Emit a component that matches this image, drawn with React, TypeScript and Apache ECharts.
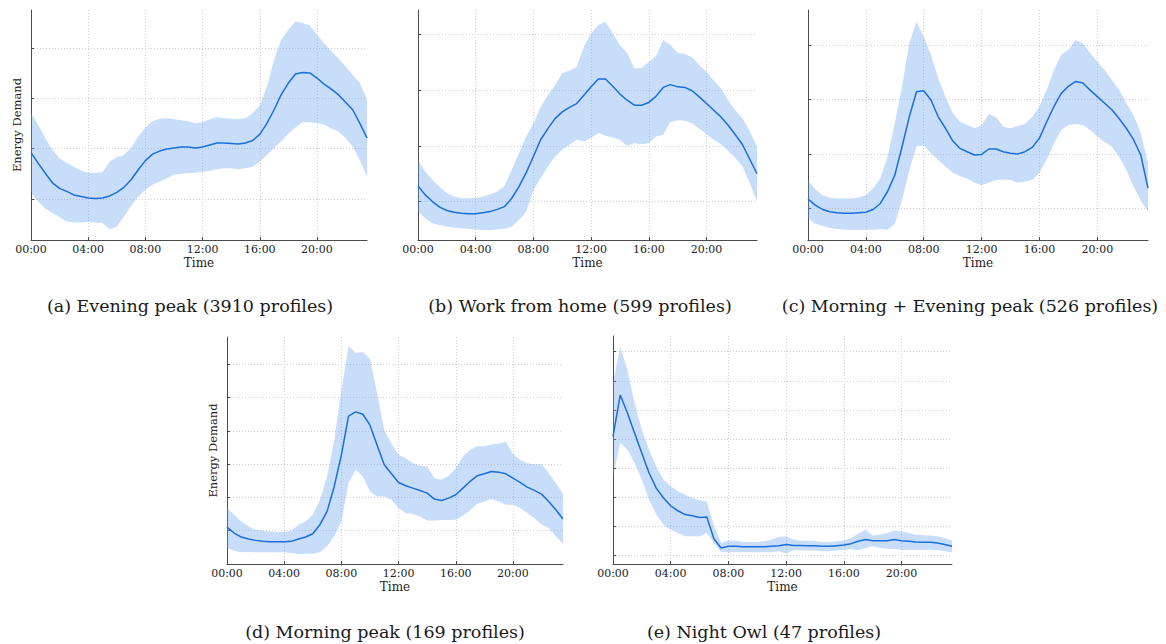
import React, { useEffect, useRef } from "react";
import * as echarts from "echarts";

// Half-hourly time points (hours)
const HOURS = [0, 0.5, 1, 1.5, 2, 2.5, 3, 3.5, 4, 4.5, 5, 5.5, 6, 6.5, 7, 7.5, 8, 8.5, 9, 9.5, 10, 10.5, 11, 11.5,
  12, 12.5, 13, 13.5, 14, 14.5, 15, 15.5, 16, 16.5, 17, 17.5, 18, 18.5, 19, 19.5, 20, 20.5, 21, 21.5, 22, 22.5, 23, 23.5];
const X_TICKS = [0, 4, 8, 12, 16, 20];

// (a) Evening peak
const A_MEAN = [1.92, 1.71, 1.51, 1.32, 1.21, 1.15, 1.08, 1.05, 1.02, 1.01, 1.02, 1.06, 1.13, 1.23, 1.38, 1.58, 1.76, 1.89, 1.95, 1.99, 2.01, 2.03, 2.03, 2.01,
  2.03, 2.07, 2.11, 2.11, 2.10, 2.09, 2.11, 2.16, 2.28, 2.50, 2.77, 3.07, 3.30, 3.48, 3.51, 3.50, 3.40, 3.28, 3.18, 3.07, 2.92, 2.77, 2.50, 2.21];
const A_UP = [2.70, 2.47, 2.21, 1.97, 1.81, 1.72, 1.64, 1.56, 1.52, 1.52, 1.53, 1.74, 1.83, 1.87, 2.01, 2.24, 2.42, 2.54, 2.59, 2.60, 2.58, 2.56, 2.54, 2.50,
  2.52, 2.58, 2.62, 2.60, 2.59, 2.58, 2.60, 2.70, 2.85, 3.23, 3.76, 4.16, 4.36, 4.52, 4.49, 4.44, 4.26, 4.09, 3.93, 3.79, 3.63, 3.46, 3.30, 2.98];
const A_LO = [1.13, 0.95, 0.81, 0.72, 0.64, 0.55, 0.53, 0.53, 0.54, 0.53, 0.52, 0.40, 0.45, 0.65, 0.86, 1.05, 1.18, 1.28, 1.34, 1.41, 1.48, 1.50, 1.51, 1.52,
  1.54, 1.56, 1.59, 1.61, 1.61, 1.59, 1.61, 1.64, 1.74, 1.87, 2.01, 2.14, 2.30, 2.42, 2.52, 2.52, 2.50, 2.47, 2.40, 2.34, 2.21, 2.04, 1.77, 1.44];

// (b) Work from home
const B_MEAN = [1.28, 1.12, 1.00, 0.90, 0.84, 0.81, 0.79, 0.78, 0.78, 0.80, 0.82, 0.86, 0.91, 1.06, 1.27, 1.52, 1.81, 2.11, 2.31, 2.49, 2.61, 2.69, 2.76, 2.91,
  3.06, 3.20, 3.20, 3.07, 2.93, 2.82, 2.73, 2.73, 2.78, 2.89, 3.05, 3.10, 3.06, 3.05, 2.99, 2.88, 2.76, 2.64, 2.52, 2.37, 2.20, 2.02, 1.76, 1.50];
const B_UP = [1.74, 1.54, 1.39, 1.26, 1.15, 1.09, 1.06, 1.06, 1.07, 1.09, 1.13, 1.18, 1.28, 1.57, 1.87, 2.17, 2.40, 2.70, 2.91, 3.09, 3.31, 3.35, 3.42, 3.78,
  4.02, 4.17, 4.23, 4.02, 3.81, 3.67, 3.39, 3.40, 3.51, 3.61, 3.90, 3.81, 3.67, 3.65, 3.59, 3.45, 3.33, 3.18, 3.03, 2.82, 2.64, 2.49, 2.26, 2.00];
const B_LO = [0.82, 0.70, 0.61, 0.58, 0.55, 0.53, 0.52, 0.51, 0.50, 0.49, 0.49, 0.50, 0.51, 0.55, 0.67, 0.82, 1.21, 1.42, 1.63, 1.81, 1.93, 2.02, 2.11, 2.08,
  2.14, 2.23, 2.18, 2.15, 2.11, 2.00, 2.05, 2.03, 2.05, 2.17, 2.20, 2.43, 2.46, 2.45, 2.40, 2.31, 2.21, 2.11, 2.03, 1.91, 1.78, 1.63, 1.33, 1.00];

// (c) Morning + Evening peak
const C_MEAN = [1.17, 1.06, 0.98, 0.94, 0.92, 0.91, 0.91, 0.92, 0.93, 0.98, 1.09, 1.31, 1.61, 2.13, 2.68, 3.14, 3.16, 2.99, 2.68, 2.47, 2.24, 2.10, 2.04, 1.98,
  1.99, 2.09, 2.09, 2.04, 2.01, 2.00, 2.04, 2.12, 2.29, 2.59, 2.87, 3.11, 3.24, 3.33, 3.30, 3.17, 3.05, 2.93, 2.81, 2.65, 2.47, 2.26, 1.98, 1.37];
const C_UP = [1.52, 1.35, 1.24, 1.20, 1.18, 1.18, 1.18, 1.20, 1.24, 1.37, 1.55, 1.95, 2.56, 3.24, 4.03, 4.43, 4.15, 3.82, 3.39, 3.05, 2.75, 2.59, 2.53, 2.47,
  2.53, 2.73, 2.67, 2.50, 2.47, 2.51, 2.55, 2.68, 2.87, 3.17, 3.54, 3.82, 3.91, 4.09, 4.03, 3.85, 3.69, 3.54, 3.36, 3.17, 2.93, 2.71, 2.38, 1.83];
const C_LO = [0.82, 0.72, 0.68, 0.64, 0.62, 0.61, 0.61, 0.61, 0.61, 0.61, 0.62, 0.61, 0.72, 1.15, 1.70, 2.13, 2.16, 2.01, 1.89, 1.77, 1.66, 1.59, 1.55, 1.47,
  1.43, 1.47, 1.52, 1.53, 1.52, 1.47, 1.49, 1.52, 1.66, 1.90, 2.19, 2.44, 2.53, 2.55, 2.53, 2.44, 2.32, 2.22, 2.13, 1.95, 1.70, 1.40, 1.15, 0.94];

// (d) Morning peak
const D_MEAN = [1.11, 0.93, 0.81, 0.75, 0.71, 0.68, 0.67, 0.67, 0.67, 0.68, 0.75, 0.81, 0.91, 1.18, 1.58, 2.33, 3.28, 4.44, 4.57, 4.50, 4.17, 3.57, 2.98, 2.71,
  2.45, 2.35, 2.28, 2.21, 2.13, 1.95, 1.91, 1.98, 2.08, 2.28, 2.48, 2.65, 2.71, 2.78, 2.76, 2.71, 2.58, 2.45, 2.31, 2.21, 2.10, 1.88, 1.63, 1.35];
const D_UP = [1.68, 1.48, 1.28, 1.13, 1.03, 1.00, 0.98, 0.96, 0.96, 1.00, 1.18, 1.28, 1.48, 1.93, 2.63, 3.72, 5.22, 6.54, 6.34, 6.37, 6.17, 5.12, 4.02, 3.62,
  3.28, 3.18, 3.03, 2.95, 2.93, 2.58, 2.53, 2.65, 2.88, 3.23, 3.43, 3.54, 3.54, 3.59, 3.62, 3.67, 3.31, 3.13, 3.03, 3.00, 3.00, 2.73, 2.43, 2.10];
const D_LO = [0.48, 0.40, 0.35, 0.36, 0.35, 0.35, 0.35, 0.35, 0.35, 0.33, 0.30, 0.31, 0.31, 0.35, 0.53, 0.83, 1.28, 2.43, 2.83, 2.63, 2.18, 2.03, 2.03, 1.93,
  1.68, 1.53, 1.50, 1.43, 1.31, 1.31, 1.32, 1.32, 1.33, 1.45, 1.61, 1.81, 1.88, 1.95, 1.88, 1.78, 1.78, 1.68, 1.53, 1.38, 1.18, 1.08, 0.83, 0.61];

// (e) Night Owl
const E_MEAN = [5.08, 6.51, 5.89, 5.20, 4.51, 3.83, 3.31, 2.97, 2.70, 2.53, 2.40, 2.36, 2.30, 2.32, 1.56, 1.25, 1.31, 1.31, 1.29, 1.29, 1.29, 1.29, 1.31, 1.33,
  1.37, 1.34, 1.34, 1.33, 1.33, 1.31, 1.31, 1.33, 1.35, 1.40, 1.48, 1.54, 1.50, 1.50, 1.50, 1.54, 1.50, 1.48, 1.46, 1.45, 1.45, 1.42, 1.37, 1.31];
const E_UP = [6.92, 8.17, 7.37, 6.23, 5.31, 4.63, 4.05, 3.60, 3.37, 3.20, 3.08, 2.97, 2.89, 2.85, 2.00, 1.42, 1.51, 1.51, 1.46, 1.46, 1.46, 1.48, 1.54, 1.63,
  1.65, 1.54, 1.50, 1.50, 1.48, 1.46, 1.46, 1.48, 1.51, 1.59, 1.74, 1.88, 1.68, 1.71, 1.77, 1.85, 1.82, 1.77, 1.71, 1.69, 1.68, 1.65, 1.59, 1.51];
const E_LO = [3.71, 4.86, 4.63, 4.17, 3.60, 2.91, 2.40, 2.05, 1.88, 1.77, 1.65, 1.65, 1.65, 1.77, 1.42, 1.10, 1.10, 1.10, 1.10, 1.10, 1.10, 1.10, 1.10, 1.14,
  1.06, 1.17, 1.17, 1.16, 1.16, 1.14, 1.14, 1.16, 1.19, 1.22, 1.17, 1.25, 1.31, 1.25, 1.22, 1.22, 1.19, 1.19, 1.19, 1.19, 1.19, 1.17, 1.14, 1.10];

const CAPTIONS = [
  "(a) Evening peak (3910 profiles)",
  "(b) Work from home (599 profiles)",
  "(c) Morning + Evening peak (526 profiles)",
  "(d) Morning peak (169 profiles)",
  "(e) Night Owl (47 profiles)",
];
const Y_NAMES = ["Energy Demand", "", "", "Energy Demand", ""];
const Y_MIN = [0.185, 0.31, 0.42, 0, 0.7];
const Y_MAX = [4.75, 4.44, 4.64, 6.82, 8.54];
const Y_TICKS = [[1, 2, 3, 4], [1, 2, 3, 4], [1, 2, 3, 4], [1, 2, 3, 4, 5, 6], [1, 2, 3, 4, 5, 6, 7, 8]];

const MEANS = [A_MEAN, B_MEAN, C_MEAN, D_MEAN, E_MEAN];
const UPPERS = [A_UP, B_UP, C_UP, D_UP, E_UP];
const LOWERS = [A_LO, B_LO, C_LO, D_LO, E_LO];

// layout (pixels)
const GRIDS = [
  { left: 31, top: 10, width: 336, height: 230 },
  { left: 418, top: 10, width: 339, height: 230 },
  { left: 808, top: 10, width: 340, height: 230 },
  { left: 227, top: 337, width: 336, height: 227 },
  { left: 613, top: 336, width: 339, height: 228 },
];
const CAPTION_POS = [[190, 306], [580, 306], [970, 306], [385, 632], [764, 632]];

const SERIF = "'DejaVu Serif', serif";
const AXIS_COLOR = "#4a4a4a";
const GRID_COLOR = "#cfcfcf";
const LINE_COLOR = "#1a6fdc";
const BAND_COLOR = "rgba(100,160,240,0.36)";

function fmtHour(v: number) {
  return (v < 10 ? "0" : "") + v + ":00";
}

export default function App() {
  const ref = useRef<HTMLDivElement>(null);
  useEffect(() => {
    if (!ref.current) return;
    const chart = echarts.init(ref.current, undefined, { renderer: "svg" });
    const xAxis = GRIDS.map((_, i) => ({
      type: "value",
      gridIndex: i,
      min: 0,
      max: 23.5,
      axisLine: { show: true, onZero: false, lineStyle: { color: AXIS_COLOR, width: 1 } },
      axisTick: { show: true, inside: true, length: 3, customValues: X_TICKS, lineStyle: { color: AXIS_COLOR } },
      axisLabel: {
        customValues: X_TICKS,
        formatter: (v: number) => fmtHour(v),
        color: "#222",
        fontFamily: SERIF,
        fontSize: 11,
        margin: 4,
      },
      splitLine: { show: true, lineStyle: { type: [1, 2], color: GRID_COLOR, width: 1 } },
      name: "Time",
      nameLocation: "middle",
      nameGap: 17,
      nameTextStyle: { color: "#222", fontFamily: SERIF, fontSize: 12 },
    }));
    const yAxis = GRIDS.map((_, i) => ({
      type: "value",
      gridIndex: i,
      min: Y_MIN[i],
      max: Y_MAX[i],
      axisLine: { show: true, onZero: false, lineStyle: { color: AXIS_COLOR, width: 1 } },
      axisTick: { show: true, inside: true, length: 3, customValues: Y_TICKS[i], lineStyle: { color: AXIS_COLOR } },
      axisLabel: { show: false, customValues: Y_TICKS[i] },
      splitLine: { show: true, lineStyle: { type: [1, 2], color: GRID_COLOR, width: 1 } },
      name: Y_NAMES[i],
      nameLocation: "middle",
      nameGap: 8,
      nameTextStyle: { color: "#222", fontFamily: SERIF, fontSize: 11.5 },
    }));
    const series: any[] = [];
    MEANS.forEach((mean, i) => {
      const lo = LOWERS[i];
      const up = UPPERS[i];
      series.push({
        type: "custom",
        xAxisIndex: i,
        yAxisIndex: i,
        silent: true,
        z: 1,
        data: HOURS.map((h, j) => [h, lo[j], up[j]]),
        encode: { x: 0, y: [1, 2] },
        renderItem: (params: any, api: any) => {
          if (params.dataIndex !== 0) return null;
          const pts: number[][] = [];
          for (let j = 0; j < HOURS.length; j++) pts.push(api.coord([HOURS[j], up[j]]));
          for (let j = HOURS.length - 1; j >= 0; j--) pts.push(api.coord([HOURS[j], lo[j]]));
          return { type: "polygon", shape: { points: pts }, style: { fill: BAND_COLOR, stroke: "none" } };
        },
      });
      series.push({
        type: "line",
        xAxisIndex: i,
        yAxisIndex: i,
        symbol: "none",
        silent: true,
        lineStyle: { color: LINE_COLOR, width: 1.5 },
        data: HOURS.map((h, j) => [h, mean[j]]),
        z: 3,
      });
    });
    const graphic = CAPTIONS.map((t, i) => ({
      type: "text",
      x: CAPTION_POS[i][0],
      y: CAPTION_POS[i][1],
      style: {
        text: t,
        fontFamily: SERIF,
        fontSize: 17.5,
        fill: "#1a1a1a",
        align: "center",
        verticalAlign: "middle",
        textAlign: "center",
        textVerticalAlign: "middle",
      },
    }));
    chart.setOption({
      animation: false,
      backgroundColor: "#ffffff",
      grid: GRIDS.map((g) => ({ ...g, containLabel: false })),
      xAxis,
      yAxis,
      series,
      graphic,
    });
    return () => chart.dispose();
  }, []);
  return (
    <div
      ref={ref}
      style={{ position: "absolute", left: 0, top: 0, width: 1166, height: 644, background: "#fff" }}
    />
  );
}
